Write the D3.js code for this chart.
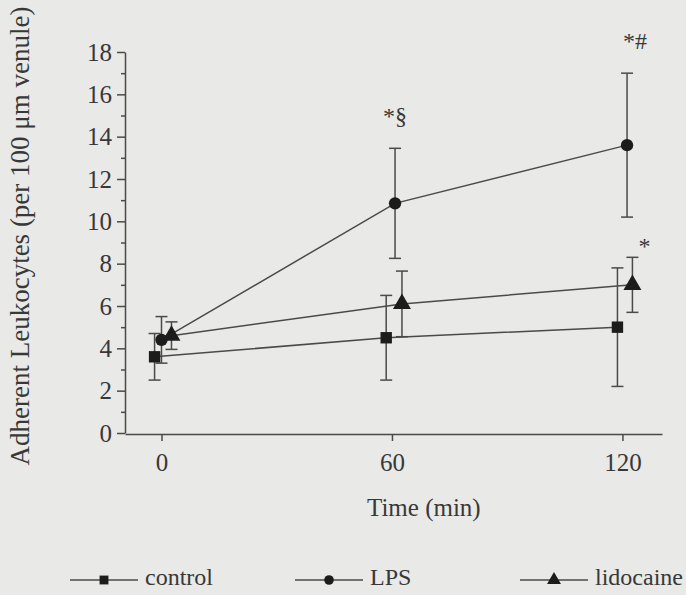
<!DOCTYPE html>
<html>
<head>
<meta charset="utf-8">
<script src="https://cdn.jsdelivr.net/npm/d3@7"></script>
<style>
  body { margin: 0; background: #e9e9e7; }
  svg { display: block; }
</style>
</head>
<body>
<svg id="chart" width="686" height="595"></svg>
<script>
// values (mean +/- error bar)
const times = [0, 60, 120]
const seriesNames = ['control', 'LPS', 'lidocaine']
const controlMean = [3.6, 4.5, 5.0]
const controlErr = [1.1, 2.0, 2.8]
const lpsMean = [4.4, 10.85, 13.6]
const lpsErr = [1.1, 2.6, 3.4]
const lidoMean = [4.6, 6.1, 7.0]
const lidoErr = [0.65, 1.55, 1.3]
// the groups are drawn slightly side by side (minutes)
const controlShift = [-1.8, -1.5, -1.3]
const lpsShift = [0, 0.8, 1.2]
const lidoShift = [2.6, 2.6, 2.6]
const yTicks = [0, 2, 4, 6, 8, 10, 12, 14, 16, 18]
const yMinor = [1, 3, 5, 7, 9, 11, 13, 15, 17]
// significance marks
const markText = ['*\u00a7', '*#', '*']
const markSeries = ['LPS', 'LPS', 'lidocaine']
const markIndex = [1, 2, 2]

const font = "'Liberation Serif', 'Times New Roman', serif"
const ink = '#383838'

const series = [
  {name: 'control', mean: controlMean, err: controlErr, shift: controlShift, shape: d3.symbolSquare, size: 130},
  {name: 'LPS', mean: lpsMean, err: lpsErr, shift: lpsShift, shape: d3.symbolCircle, size: 120},
  {name: 'lidocaine', mean: lidoMean, err: lidoErr, shift: lidoShift, shape: d3.symbolTriangle, size: 140}
]

const svg = d3.select('#chart')

const x = d3.scaleLinear().domain([-9.5, 130.3]).range([125, 662])
const y = d3.scaleLinear().domain([0, 18]).range([433, 52])

// axes
svg.append('g')
  .attr('transform', 'translate(125,0)')
  .call(d3.axisLeft(y).tickValues(yTicks).tickSize(8).tickSizeOuter(0).tickPadding(5))
svg.append('g')
  .attr('transform', 'translate(125,0)')
  .call(d3.axisLeft(y).tickValues(yMinor).tickSize(4).tickFormat(''))
  .call(g => g.select('.domain').remove())

svg.append('g')
  .attr('transform', 'translate(0,434)')
  .call(d3.axisBottom(x).tickValues(times).tickSize(7).tickSizeOuter(0).tickPadding(12))

svg.selectAll('.domain, .tick line').attr('stroke', '#4a4a4a').attr('stroke-width', 1.5)
svg.selectAll('.tick text')
  .attr('font-family', font).attr('font-size', 25).attr('fill', ink)

// axis titles
svg.append('text')
  .attr('transform', 'translate(29,236) rotate(-90)')
  .attr('text-anchor', 'middle')
  .attr('font-family', font).attr('font-size', 27).attr('fill', ink)
  .text('Adherent Leukocytes (per 100 \u03bcm venule)')

svg.append('text')
  .attr('x', 367).attr('y', 516)
  .attr('font-family', font).attr('font-size', 25).attr('fill', ink)
  .text('Time (min)')

const px = (s, i) => x(times[i] + s.shift[i])

// error bars
series.forEach(s => {
  const g = svg.append('g').attr('stroke', '#4a4a4a').attr('stroke-width', 1.5)
  times.forEach((t, i) => {
    const cx = px(s, i)
    const hi = y(s.mean[i] + s.err[i])
    const lo = y(s.mean[i] - s.err[i])
    g.append('line').attr('x1', cx).attr('x2', cx).attr('y1', hi).attr('y2', lo)
    g.append('line').attr('x1', cx - 6).attr('x2', cx + 6).attr('y1', hi).attr('y2', hi)
    g.append('line').attr('x1', cx - 6).attr('x2', cx + 6).attr('y1', lo).attr('y2', lo)
  })
})

// connecting lines
const line = d3.line()
series.forEach(s => {
  svg.append('path')
    .attr('d', line(times.map((t, i) => [px(s, i), y(s.mean[i])])))
    .attr('fill', 'none').attr('stroke', '#4a4a4a').attr('stroke-width', 1.5)
})

// markers
series.forEach(s => {
  svg.append('g').selectAll('path')
    .data(times.map((t, i) => i))
    .join('path')
    .attr('transform', i => `translate(${px(s, i)},${y(s.mean[i])})`)
    .attr('d', d3.symbol().type(s.shape).size(s.size))
    .attr('fill', '#1c1c1c')
})

// significance marks above the error bars
markText.forEach((txt, k) => {
  const s = series.find(d => d.name === markSeries[k])
  const i = markIndex[k]
  const isSide = txt === '*'
  svg.append('text')
    .attr('x', px(s, i) + (isSide ? 12 : (i === 2 ? 8 : 0)))
    .attr('y', y(s.mean[i] + s.err[i]) - (isSide ? 3 : 24))
    .attr('text-anchor', 'middle')
    .attr('font-family', font).attr('font-size', 24).attr('fill', ink)
    .text(txt)
})

// legend
const legendX = [70, 295, 520]
series.forEach((s, k) => {
  const g = svg.append('g').attr('transform', `translate(${legendX[k]},580)`)
  g.append('line').attr('x1', 0).attr('x2', 68).attr('y1', 0).attr('y2', 0)
    .attr('stroke', '#4a4a4a').attr('stroke-width', 1.5)
  g.append('path').attr('transform', 'translate(34,0)')
    .attr('d', d3.symbol().type(s.shape).size(s.size * 0.6))
    .attr('fill', '#1c1c1c')
  g.append('text').attr('x', 75).attr('y', 5)
    .attr('font-family', font).attr('font-size', 24).attr('fill', ink)
    .text(seriesNames[k])
})
</script>
</body>
</html>
